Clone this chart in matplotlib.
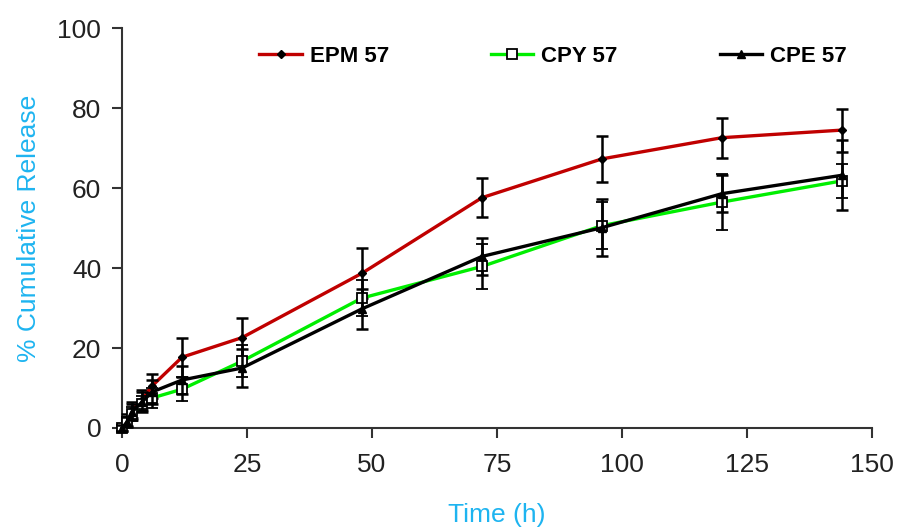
import numpy as np
import matplotlib.pyplot as plt
from matplotlib.lines import Line2D

plt.rcParams['font.family'] = ['Liberation Sans', 'DejaVu Sans']

# sampling times (h)
time_h = [0, 1, 2, 4, 6, 12, 24, 48, 72, 96, 120, 144]

# cumulative release (%) and SD
epm57 = [0, 2.0, 4.5, 7.0, 10.5, 17.7, 22.6, 38.7, 57.6, 67.3, 72.6, 74.5]
epm57_sd = [0.8, 1.5, 2.0, 2.5, 3.0, 4.9, 4.8, 6.3, 4.8, 5.7, 5.0, 5.4]

cpy57 = [0, 1.5, 3.5, 6.0, 7.5, 9.7, 16.7, 32.5, 40.4, 50.6, 56.5, 61.8]
cpy57_sd = [0.8, 1.2, 1.8, 2.0, 2.5, 3.0, 4.0, 4.6, 5.6, 5.9, 7.0, 4.3]

cpe57 = [0, 1.5, 4.0, 6.5, 9.0, 12.0, 15.0, 29.8, 42.9, 50.1, 58.6, 63.2]
cpe57_sd = [0.8, 1.2, 2.0, 2.5, 3.0, 3.5, 4.7, 5.0, 4.6, 7.1, 4.6, 8.7]

label_blue = '#1EB4F0'

fig = plt.figure(figsize=(8.98, 5.31), dpi=100)
ax = fig.add_axes([0.1359, 0.194, 0.835, 0.753])

err_kw = dict(ecolor='black', elinewidth=1.8, capsize=4.5, capthick=1.8)

series = [
    (epm57, epm57_sd, 'EPM 57', dict(color='#C00000', marker='D', ms=4.5, mfc='black', mec='black')),
    (cpy57, cpy57_sd, 'CPY 57', dict(color='#00EE00', marker='s', ms=7, mfc='white', mec='black', mew=1.3)),
    (cpe57, cpe57_sd, 'CPE 57', dict(color='black', marker='^', ms=6, mfc='black', mec='black')),
]

handles = []
for i, (vals, sd, name, style) in enumerate(series):
    cont = ax.errorbar(time_h, vals, yerr=sd, lw=2.4, zorder=3 + i, **style, **err_kw)
    for art in cont.get_children():
        art.set_clip_on(False)
    handles.append(Line2D([], [], lw=2.4, **style))

ax.set_xlim(0, 150)
ax.set_ylim(0, 100)
ax.set_xticks([0, 25, 50, 75, 100, 125, 150])
ax.set_yticks([0, 20, 40, 60, 80, 100])

for side in ['top', 'right']:
    ax.spines[side].set_visible(False)
for side in ['left', 'bottom']:
    ax.spines[side].set_color('#333333')
    ax.spines[side].set_linewidth(1.5)
ax.tick_params(direction='out', length=7, width=1.5, color='#333333',
               labelsize=19, labelcolor='#222222', pad=8)
ax.tick_params(axis='x', pad=11)

ax.set_xlabel('Time (h)', fontsize=19, color=label_blue, labelpad=19)
ax.set_ylabel('% Cumulative Release', fontsize=19, color=label_blue, labelpad=12)

ax.legend(handles, [s[2] for s in series], loc='upper center', bbox_to_anchor=(0.575, 1.005),
          ncol=3, frameon=False, prop={'weight': 'bold', 'size': 16}, handlelength=1.9,
          columnspacing=4.6, handletextpad=0.36)

fig.savefig('out.png', dpi=100)
